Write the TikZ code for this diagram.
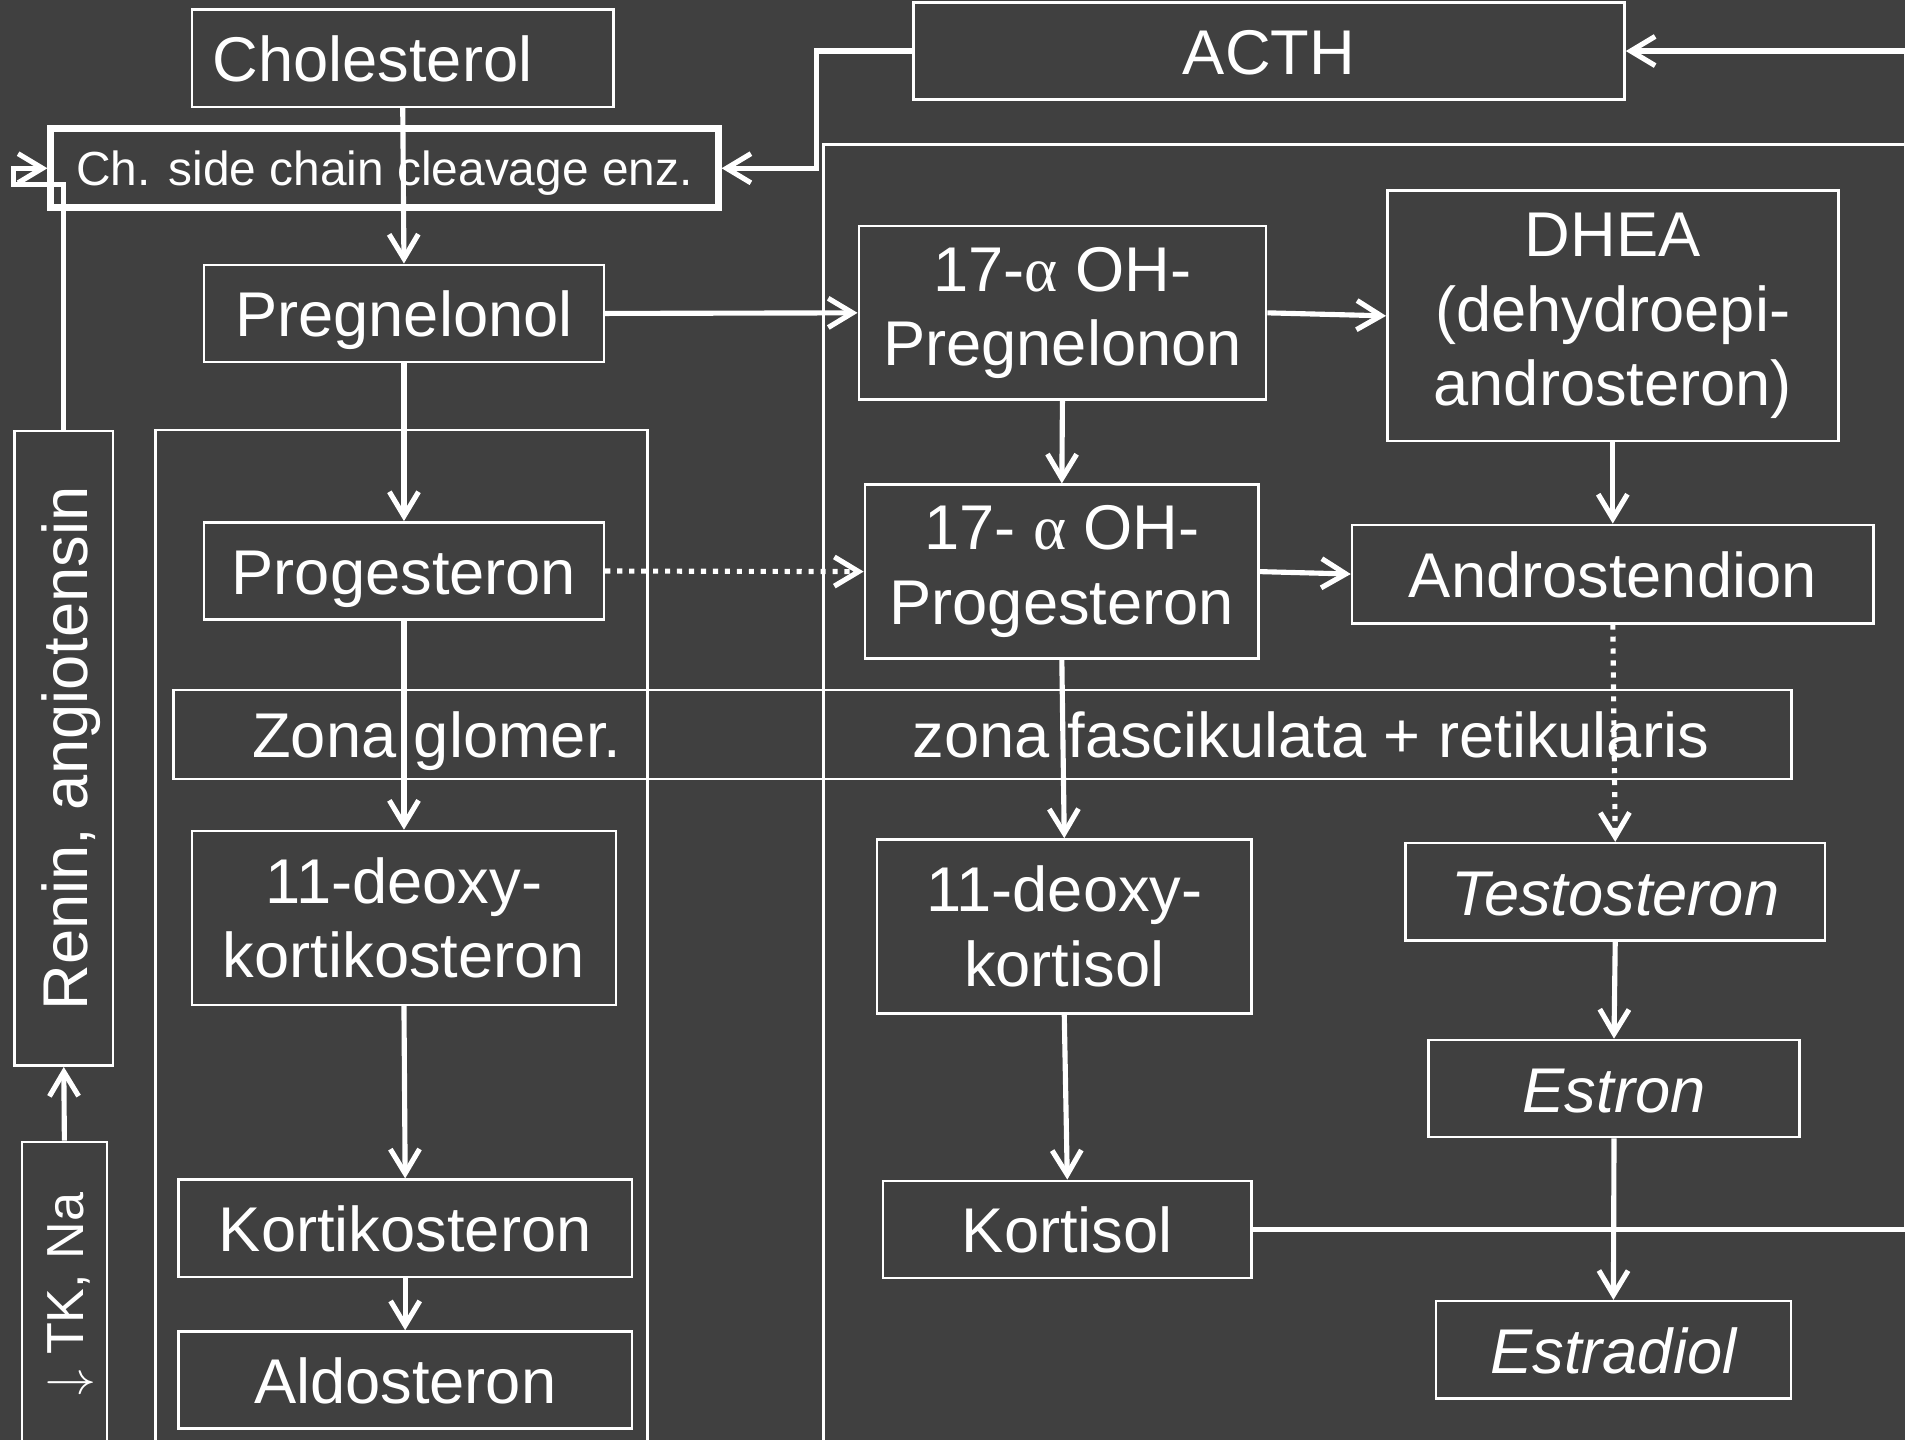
\documentclass[tikz,border=0pt]{standalone}
\usepackage{fontspec}
\setmainfont{Liberation Sans}
\newfontfamily\hgreek{Liberation Serif}
\usetikzlibrary{arrows.meta}
\definecolor{hbg}{HTML}{404040}
\tikzset{
  >={Straight Barb[length=2mm,width=2.4mm]},
  hbox/.style={draw=white, line width=0.6pt, text=white, inner sep=0pt, align=center,
               font=\fontsize{14.8}{17.4}\selectfont},
  hone/.style={text height=11pt, text depth=0pt},
  hit/.style={font=\fontsize{14.8}{17.4}\selectfont\itshape},
  henz/.style={hbox, line width=1.6pt, font=\fontsize{11.2}{13}\selectfont,
               text height=8.3pt, text depth=0pt},
  htxt/.style={text=white, inner sep=0pt, font=\fontsize{14.8}{17.4}\selectfont,
               text height=11pt, text depth=0pt},
  hframe/.style={draw=white, line width=0.6pt},
  hflow/.style={->, white, line width=1.2pt},
  hdot/.style={hflow, dash pattern=on 1.2pt off 1.6pt},
}

\begin{document}
\begin{tikzpicture}[x=0.01cm,y=-0.01cm]

  \useasboundingbox (0,0) rectangle (1568,1185);
  \fill[hbg] (0,0) rectangle (1568,1185);

  % zones
  \draw[hframe] (128,354) rectangle (533,1200);
  \draw[hframe] (678,119) rectangle (1600,1200);
  \node[hbox, minimum width=13.31cm, minimum height=0.73cm] (zona) at (808.5,604.5) {};
  \node[htxt] (zglom) at (359.5,604) {Zona glomer.};
  \node[htxt] (zfasc) at (1079,604) {zona fascikulata + retikularis};

  % top
  \node[hbox, hone, align=left, text width=3.13cm, inner xsep=0.17cm, minimum height=0.8cm]
    (chol) at (331.5,48) {Cholesterol};
  \node[henz, minimum width=5.49cm, minimum height=0.65cm] (side) at (316.5,138.5)
    {Ch. side chain cleavage enz.};
  \node[hbox, hone, minimum width=5.85cm, minimum height=0.8cm] (acth) at (1044.5,42) {ACTH};

  % left column
  \node[hbox, hone, minimum width=3.29cm, minimum height=0.8cm] (preg) at (332.5,258) {Pregnelonol};
  \node[hbox, hone, minimum width=3.29cm, minimum height=0.8cm] (prog) at (332.5,470) {Progesteron};
  \node[hbox, minimum width=3.49cm, minimum height=1.43cm] (dkort) at (332.5,755.5)
    {11-deoxy-\\kortikosteron};
  \node[hbox, hone, minimum width=3.73cm, minimum height=0.8cm] (kortiko) at (333.5,1011) {Kortikosteron};
  \node[hbox, hone, minimum width=3.73cm, minimum height=0.8cm] (aldo) at (333.5,1136) {Aldosteron};

  % middle column
  \node[hbox, minimum width=3.35cm, minimum height=1.43cm] (ohpreg) at (874.5,257.5)
    {17-{\hgreek α} OH-\\Pregnelonon};
  \node[hbox, minimum width=3.24cm, minimum height=1.43cm] (ohprog) at (874,470.5)
    {17- {\hgreek α} OH-\\Progesteron};
  \node[hbox, minimum width=3.08cm, minimum height=1.43cm] (dkortisol) at (876,762.5)
    {11-deoxy-\\kortisol};
  \node[hbox, hone, minimum width=3.03cm, minimum height=0.8cm] (kortisol) at (878.5,1012) {Kortisol};

  % right column
  \node[hbox, minimum width=3.71cm, minimum height=2.06cm] (dhea) at (1327.5,260)
    {DHEA\\(dehydroepi-\\androsteron)};
  \node[hbox, hone, minimum width=4.29cm, minimum height=0.81cm] (andro) at (1327.5,472.5) {Androstendion};
  \node[hbox, hone, hit, minimum width=3.45cm, minimum height=0.8cm] (testo) at (1329.5,734) {Testosteron};
  \node[hbox, hone, hit, minimum width=3.05cm, minimum height=0.8cm] (estron) at (1328.5,896) {Estron};
  \node[hbox, hone, hit, minimum width=2.92cm, minimum height=0.8cm] (estradiol) at (1328,1111) {Estradiol};

  % regulators
  \node[hbox, hone, rotate=90, minimum width=5.22cm, minimum height=0.81cm] (renin) at (52.5,616)
    {Renin, angiotensin};
  \node[hbox, rotate=90, font=\fontsize{12.2}{14}\selectfont, text height=9pt, text depth=0pt,
        minimum width=2.5cm, minimum height=0.7cm] (tkna) at (53,1065) {$\downarrow$ TK, Na};

  \coordinate (hook) at (11,152);
  \coordinate (acthturn) at (672,138.5);
  \coordinate (fbturn) at (1569,1012);

  % pathway
  \draw[hflow] (chol.south) -- (preg.north);
  \draw[hflow] (preg.east) -- (ohpreg.west);
  \draw[hflow] (ohpreg.east) -- (dhea.west);
  \draw[hflow] (preg.south) -- (prog.north);
  \draw[hflow] (ohpreg.south) -- (ohprog.north);
  \draw[hflow] (dhea.south) -- (andro.north);
  \draw[hdot] (prog.east) -- (ohprog.west);
  \draw[hflow] (ohprog.east) -- (andro.west);
  \draw[hdot] (andro.south) -- (testo.north);
  \draw[hflow] (prog.south) -- (dkort.north);
  \draw[hflow] (ohprog.south) -- (dkortisol.north);
  \draw[hflow] (dkort.south) -- (kortiko.north);
  \draw[hflow] (kortiko.south) -- (aldo.north);
  \draw[hflow] (dkortisol.south) -- (kortisol.north);
  \draw[hflow] (testo.south) -- (estron.north);
  \draw[hflow] (estron.south) -- (estradiol.north);

  % control loops
  \draw[hflow] (tkna.east) -- (renin.west);
  \draw[hflow] (renin.east) |- (hook) |- (side.west);
  \draw[hflow] (acth.west) -| (acthturn) -- (side.east);
  \draw[hflow] (kortisol.east) -- (fbturn) |- (acth.east);

\end{tikzpicture}
\end{document}
